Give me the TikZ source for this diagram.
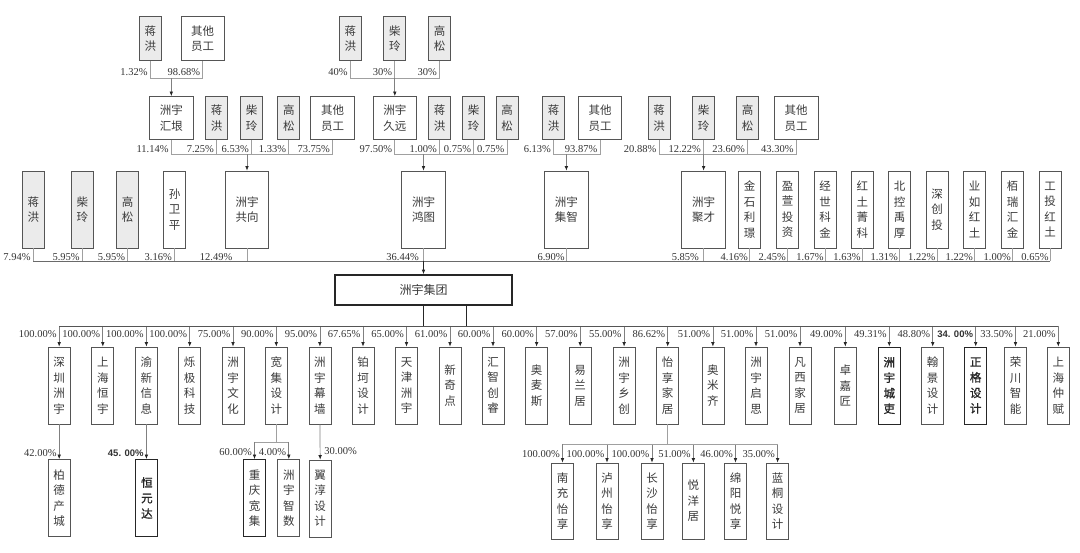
\documentclass[tikz,border=0pt]{standalone}
\usepackage{fontspec}
\setmainfont{Liberation Serif}
\newfontfamily\cjk{Noto Sans CJK SC}
\newfontfamily\cjkb[FakeBold=1.2]{Noto Sans CJK SC}
\newfontfamily\lsans{Liberation Sans}
\usetikzlibrary{arrows.meta}
\definecolor{bdr}{HTML}{555555}
\definecolor{txt}{HTML}{3A3A3A}
\definecolor{pfill}{HTML}{EBEBEB}
\definecolor{stubc}{HTML}{A0A0A0}
\definecolor{arrc}{HTML}{808080}
\definecolor{dk}{HTML}{262626}
\definecolor{pctc}{HTML}{333333}
\definecolor{mlc}{HTML}{6A6A6A}
\tikzset{
 box/.style={draw=bdr, line width=0.75pt, fill=white, text=txt,
   font=\cjk\fontsize{11.5}{15.5}\selectfont, inner sep=0pt, align=center,
   minimum width=22pt, minimum height=77pt},
 per/.style={fill=pfill},
 wht/.style={},
 nb/.style={},
 bb/.style={font=\cjkb\fontsize{11.5}{15.5}\selectfont, text=dk, draw=dk, line width=0.9pt},
 w44/.style={minimum width=43.5pt},
 h44/.style={minimum height=44pt},
 h43/.style={minimum height=43pt},
 pct/.style={font=\fontsize{10.5}{12}\selectfont, text=pctc, inner sep=0pt, anchor=base east},
 pctb/.style={pct, font=\lsans\bfseries\fontsize{9.5}{11}\selectfont},
 stub/.style={draw=stubc, line width=0.7pt},
 arr/.style={draw=arrc, line width=0.7pt, -{Latex[length=4.5pt,width=3.6pt,color=dk]}},
 mline/.style={draw=mlc, line width=0.9pt},
 dline/.style={draw=dk, line width=0.8pt}
}
\begin{document}
\begin{tikzpicture}[x=1pt,y=-1pt]
\fill[white] (0,0) rectangle (1080,553);
\useasboundingbox (0,0) rectangle (1080,553);

% ---------- top row ----------
\node[box,per,h44] (tA1) at (150.3,38.6) {蒋\\洪};
\node[box,w44,h44] (tA2) at (202.7,38.6) {其他\\员工};
\node[box,per,h44] (tB1) at (350.3,38.6) {蒋\\洪};
\node[box,per,h44] (tB2) at (394.8,38.6) {柴\\玲};
\node[box,per,h44] (tB3) at (439.5,38.6) {高\\松};

% ---------- second row ----------
\node[box,w44,h43] (hy) at (171.3,118) {洲宇\\汇垠};
\node[box,per,h43] (m1) at (216.6,118) {蒋\\洪};
\node[box,per,h43] (m2) at (251.5,118) {柴\\玲};
\node[box,per,h43] (m3) at (288.8,118) {高\\松};
\node[box,w44,h43] (m4) at (332.6,118) {其他\\员工};
\node[box,w44,h43] (jy) at (394.8,118) {洲宇\\久远};
\node[box,per,h43] (m5) at (439.5,118) {蒋\\洪};
\node[box,per,h43] (m6) at (473.7,118) {柴\\玲};
\node[box,per,h43] (m7) at (507,118) {高\\松};
\node[box,per,h43] (m8) at (553.6,118) {蒋\\洪};
\node[box,w44,h43] (m9) at (600,118) {其他\\员工};
\node[box,per,h43] (m10) at (659,118) {蒋\\洪};
\node[box,per,h43] (m11) at (703.6,118) {柴\\玲};
\node[box,per,h43] (m12) at (747.5,118) {高\\松};
\node[box,w44,h43] (m13) at (796.2,118) {其他\\员工};

% top connectors
\draw[stub] (tA1.south) |- (tA2.south |- 0,78.3) -- (tA2.south);
\draw[arr] (hy.north |- 0,78.3) -- (hy.north);
\node[pct,xshift=-2.5pt] (lA1) at (tA1.south |- 0,75.5) {1.32\%};
\node[pct,xshift=-2.5pt] (lA2) at (tA2.south |- 0,75.5) {98.68\%};
\draw[stub] (tB1.south) |- (tB3.south |- 0,78.3) -- (tB3.south);
\draw[stub] (tB2.south) -- (tB2.south |- 0,78.3);
\draw[arr] (jy.north |- 0,78.3) -- (jy.north);
\node[pct,xshift=-2.5pt] (lB1) at (tB1.south |- 0,75.5) {40\%};
\node[pct,xshift=-2.5pt] (lB2) at (tB2.south |- 0,75.5) {30\%};
\node[pct,xshift=-2.5pt] (lB3) at (tB3.south |- 0,75.5) {30\%};

% ---------- third row ----------
\foreach \nm/\x/\tx/\st/\pc/\dx in {
 s1/33.3/蒋\\洪/per/7.94/-2.5,
 s2/82.4/柴\\玲/per/5.95/-2.5,
 s3/127.7/高\\松/per/5.95/-2.5,
 s4/174.5/孙\\卫\\平/wht/3.16/-2.5,
 gx/247/洲宇\\共向/w44/12.49/-14.5,
 ht/423.5/洲宇\\鸿图/w44/36.44/-4.5,
 jz/566.4/洲宇\\集智/w44/6.90/-1.5,
 jc/703.6/洲宇\\聚才/w44/5.85/-4.5,
 s5/749.5/金\\石\\利\\璟/wht/4.16/-1.5,
 s6/787.5/盈\\萱\\投\\资/wht/2.45/-1.5,
 s7/825.2/经\\世\\科\\金/wht/1.67/-1.5,
 s8/862.3/红\\土\\菁\\科/wht/1.63/-1.5,
 s9/899.5/北\\控\\禹\\厚/wht/1.31/-1.5,
 s10/937/深\\创\\投/wht/1.22/-1.5,
 s11/974.5/业\\如\\红\\土/wht/1.22/-1.5,
 s12/1012.5/栢\\瑞\\汇\\金/wht/1.00/-1.5,
 s13/1050.2/工\\投\\红\\土/wht/0.65/-1.5}{
 \node[box,\st] (\nm) at (\x,209.5) {\tx};
 \draw[stub] (\nm.south) -- (\nm.south |- 0,261);
 \node[pct,xshift=\dx pt] (l\nm) at (\nm.south |- 0,260.2) {\pc\%};
}

% second-row connectors
\foreach \a/\b/\c/\d/\e in {
 hy/m1/m2/m3/m4, jy/m5/m6/m7/m7, m10/m11/m12/m13/m13}{
 \draw[stub] (\a.south) |- (\e.south |- 0,154.5) -- (\e.south);
 \draw[stub] (\b.south) -- (\b.south |- 0,154.5);
 \draw[stub] (\c.south) -- (\c.south |- 0,154.5);
 \draw[stub] (\d.south) -- (\d.south |- 0,154.5);
}
\draw[stub] (m8.south) |- (m9.south |- 0,154.5) -- (m9.south);
\draw[arr] (gx.north |- 0,154.5) -- (gx.north);
\draw[arr] (ht.north |- 0,154.5) -- (ht.north);
\draw[arr] (jz.north |- 0,154.5) -- (jz.north);
\draw[arr] (jc.north |- 0,154.5) -- (jc.north);
\foreach \nm/\pc in {hy/11.14, m1/7.25, m2/6.53, m3/1.33, m4/73.75,
 jy/97.50, m5/1.00, m6/0.75, m7/0.75, m8/6.13, m9/93.87,
 m10/20.88, m11/12.22, m12/23.60, m13/43.30}{
 \node[pct,xshift=-2.5pt] (l\nm) at (\nm.south |- 0,152.5) {\pc\%};
}

% ---------- 洲宇集团 ----------
\draw[mline] (s1.south |- 0,261) -- (s13.south |- 0,261);
\node[box, minimum width=177pt, minimum height=30pt, draw=dk, line width=1.6pt,
  font=\cjk\fontsize{12}{14}\selectfont] (jt) at (423.5,290) {洲宇集团};
\draw[arr,draw=dk] (jt.north |- 0,261) -- (jt.north);
\coordinate (jt2) at (466.7,305);
\draw[dline] (jt.south) -- (jt.south |- 0,326);
\draw[dline] (jt2) -- (jt2 |- 0,326);

% ---------- subsidiaries ----------
\foreach \nm/\x/\tx/\st/\pc/\ps in {
 sz/59.2/深\\圳\\洲\\宇/nb/100.00\%/pct,
 shhy/102.8/上\\海\\恒\\宇/nb/100.00\%/pct,
 yx/146.4/渝\\新\\信\\息/nb/100.00\%/pct,
 sj/189.7/烁\\极\\科\\技/nb/100.00\%/pct,
 wh/233/洲\\宇\\文\\化/nb/75.00\%/pct,
 kj/276.3/宽\\集\\设\\计/nb/90.00\%/pct,
 mq/319.9/洲\\宇\\幕\\墙/nb/95.00\%/pct,
 bk/363/铂\\坷\\设\\计/nb/67.65\%/pct,
 tj/406.5/天\\津\\洲\\宇/nb/65.00\%/pct,
 xqd/450/新\\奇\\点/nb/61.00\%/pct,
 hz/493/汇\\智\\创\\睿/nb/60.00\%/pct,
 ams/536.6/奥\\麦\\斯/nb/60.00\%/pct,
 ylj/580.2/易\\兰\\居/nb/57.00\%/pct,
 xc/624.1/洲\\宇\\乡\\创/nb/55.00\%/pct,
 yxj/667.7/怡\\享\\家\\居/nb/86.62\%/pct,
 amq/712.9/奥\\米\\齐/nb/51.00\%/pct,
 qs/756/洲\\宇\\启\\思/nb/51.00\%/pct,
 fx/800/凡\\西\\家\\居/nb/51.00\%/pct,
 zjj/845.3/卓\\嘉\\匠/nb/49.00\%/pct,
 csl/889.3/洲\\宇\\城\\吏/bb/49.31\%/pct,
 hjs/932.7/翰\\景\\设\\计/nb/48.80\%/pct,
 zgs/975.7/正\\格\\设\\计/bb/34. 00\%/pctb,
 rc/1015.5/荣\\川\\智\\能/nb/33.50\%/pct,
 shzf/1058.3/上\\海\\仲\\赋/nb/21.00\%/pct}{
 \node[box,\st] (\nm) at (\x,385.5) {\tx};
 \draw[arr] (\nm.north |- 0,326) -- (\nm.north);
 \node[\ps,xshift=-2.5pt] (l\nm) at (\nm.north |- 0,337.8) {\pc};
}
\draw[draw=bdr, line width=0.9pt] (sz.north |- 0,326) -- (shzf.north |- 0,326);

% ---------- second level ----------
\node[box] (bd) at (59.2,498) {柏\\德\\产\\城};
\draw[arr] (sz.south) -- (bd.north);
\node[pct,xshift=-2.5pt] (lbd) at (bd.north |- 0,456.5) {42.00\%};

\node[box,bb] (hyd) at (146.9,498) {恒\\元\\达};
\draw[arr] (yx.south) -- (yx.south |- hyd.north);
\node[pctb,xshift=-3pt] (lhyd) at (hyd.north |- 0,456.5) {45. 00\%};

\node[box,draw=dk] (cqkj) at (254.5,498) {重\\庆\\宽\\集};
\node[box] (zsh) at (288.8,498) {洲\\宇\\智\\数};
\draw[stub] (kj.south) -- (kj.south |- 0,442);
\draw[stub] (cqkj.north |- 0,442) -- (zsh.north |- 0,442);
\draw[arr] (cqkj.north |- 0,442) -- (cqkj.north);
\draw[arr] (zsh.north |- 0,442) -- (zsh.north);
\node[pct,xshift=-2.5pt] (lcqkj) at (cqkj.north |- 0,455.5) {60.00\%};
\node[pct,xshift=-2.5pt] (lzsh) at (zsh.north |- 0,455.5) {4.00\%};

\node[box] (yc) at (320.2,498.5) {翼\\淳\\设\\计};
\draw[arr] (mq.south) -- (yc.north);
\node[pct,anchor=base west,xshift=4pt] (lyc) at (yc.north |- 0,454.5) {30.00\%};

\foreach \nm/\x/\tx/\pc in {
 nc/562.5/南\\充\\怡\\享/100.00,
 lz/607/泸\\州\\怡\\享/100.00,
 cs/652/长\\沙\\怡\\享/100.00,
 yyj/693.4/悦\\洋\\居/51.00,
 my/735.5/绵\\阳\\悦\\享/46.00,
 ltd/777.6/蓝\\桐\\设\\计/35.00}{
 \node[box,minimum height=76pt] (\nm) at (\x,501) {\tx};
 \draw[arr] (\nm.north |- 0,444) -- (\nm.north);
 \node[pct,xshift=-2.5pt] (l\nm) at (\nm.north |- 0,457) {\pc\%};
}
\draw[stub] (yxj.south) -- (yxj.south |- 0,444);
\draw[stub] (nc.north |- 0,444) -- (ltd.north |- 0,444);
\end{tikzpicture}
\end{document}
